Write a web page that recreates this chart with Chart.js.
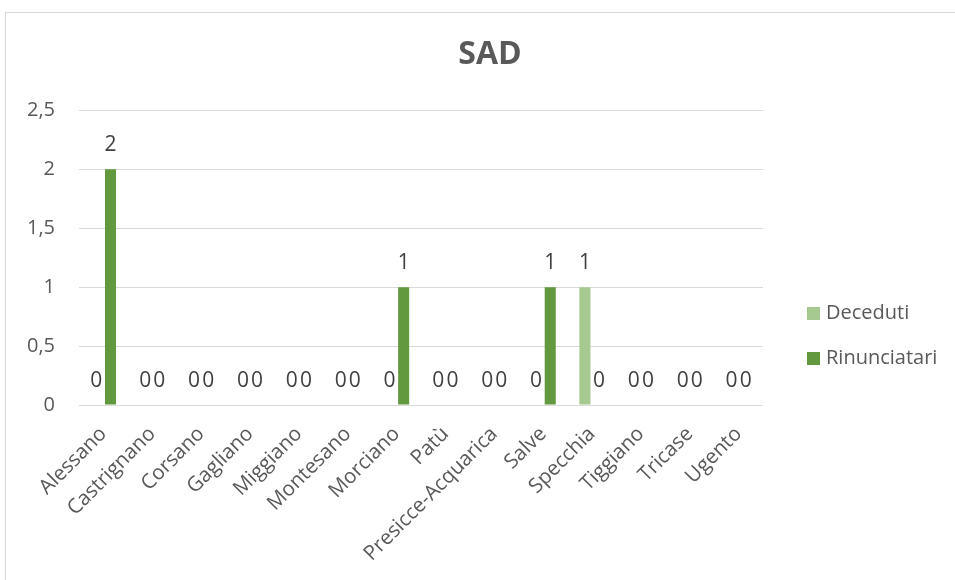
<!DOCTYPE html>
<html>
<head>
<meta charset="utf-8">
<script src="https://cdn.jsdelivr.net/npm/chart.js@4"></script>
<style>
  html, body { margin: 0; padding: 0; background: #fff; overflow: hidden; }
  #wrap { position: relative; width: 955px; height: 580px; }
  #frame { position: absolute; left: 5px; top: 12px; width: 1100px; height: 800px; border: 1px solid #d9d9d9; }
  canvas { position: absolute; left: 0; top: 0; }
</style>
</head>
<body>
<div id="wrap">
  <div id="frame"></div>
  <canvas id="sad-chart" width="955" height="580"></canvas>
</div>
<script>
var comuni = ['Alessano', 'Castrignano', 'Corsano', 'Gagliano', 'Miggiano', 'Montesano', 'Morciano',
  'Patù', 'Presicce-Acquarica', 'Salve', 'Specchia', 'Tiggiano', 'Tricase', 'Ugento'];
var deceduti = [0, 0, 0, 0, 0, 0, 0, 0, 0, 0, 1, 0, 0, 0];
var rinunciatari = [2, 0, 0, 0, 0, 0, 1, 0, 0, 1, 0, 0, 0, 0];
var yTicks = [0, 0.5, 1, 1.5, 2, 2.5];

var FONT = '"Open Sans", sans-serif';
var TEXT = '#595959';

// value above every bar, zeros included
var valueLabels = {
  id: 'valueLabels',
  afterDatasetsDraw: function (chart) {
    var ctx = chart.ctx;
    ctx.save();
    ctx.font = '21px ' + FONT;
    ctx.fillStyle = '#404040';
    ctx.textAlign = 'center';
    ctx.textBaseline = 'middle';
    chart.data.datasets.forEach(function (ds, i) {
      chart.getDatasetMeta(i).data.forEach(function (bar, j) {
        ctx.fillText(String(ds.data[j]), bar.x, bar.y - 24);
      });
    });
    ctx.restore();
  }
};

// legend on the right, stacked
var sideLegend = {
  id: 'sideLegend',
  afterDraw: function (chart) {
    var ctx = chart.ctx;
    ctx.save();
    ctx.font = '20px ' + FONT;
    ctx.textBaseline = 'middle';
    chart.data.datasets.forEach(function (ds, i) {
      var y = 313 + i * 45;
      ctx.fillStyle = ds.backgroundColor;
      ctx.fillRect(807, y - 6, 13, 13);
      ctx.fillStyle = TEXT;
      ctx.fillText(ds.label, 826, y);
    });
    ctx.restore();
  }
};

// centre the title over the whole frame, not just the plot
var titleSpan = {
  id: 'titleSpan',
  afterLayout: function (chart) {
    if (chart.titleBlock) {
      chart.titleBlock.left = 25;
      chart.titleBlock.right = 955;
    }
  }
};

new Chart(document.getElementById('sad-chart'), {
  type: 'bar',
  data: {
    labels: comuni,
    datasets: [{
      label: 'Deceduti',
      data: deceduti,
      backgroundColor: '#A5C98E',
      categoryPercentage: 0.58,
      barPercentage: 0.78
    }, {
      label: 'Rinunciatari',
      data: rinunciatari,
      backgroundColor: '#62993E',
      categoryPercentage: 0.58,
      barPercentage: 0.78
    }]
  },
  options: {
    responsive: false,
    animation: false,
    devicePixelRatio: 1,
    layout: { padding: { left: 0, right: 192, top: 12, bottom: 0 } },
    plugins: {
      legend: { display: false },
      tooltip: { enabled: false },
      title: {
        display: true,
        text: 'SAD',
        color: TEXT,
        font: { family: FONT, size: 32, weight: 'bold' },
        padding: { top: 24, bottom: 36 }
      }
    },
    scales: {
      x: {
        grid: { display: false },
        border: { display: false },
        ticks: {
          color: TEXT,
          font: { family: FONT, size: 20.5 },
          minRotation: 45,
          maxRotation: 45,
          padding: 9
        },
        afterFit: function (scale) { scale.height = 175; }
      },
      y: {
        min: 0,
        max: 2.5,
        afterBuildTicks: function (scale) {
          scale.ticks = yTicks.map(function (v) { return { value: v }; });
        },
        grid: { color: '#d9d9d9', lineWidth: 1, drawTicks: false },
        border: { display: false },
        ticks: {
          color: TEXT,
          font: { family: FONT, size: 20 },
          padding: 24,
          callback: function (v) { return String(v).replace('.', ','); }
        },
        afterFit: function (scale) { scale.width = 79; }
      }
    }
  },
  plugins: [valueLabels, sideLegend, titleSpan]
});
</script>
</body>
</html>
